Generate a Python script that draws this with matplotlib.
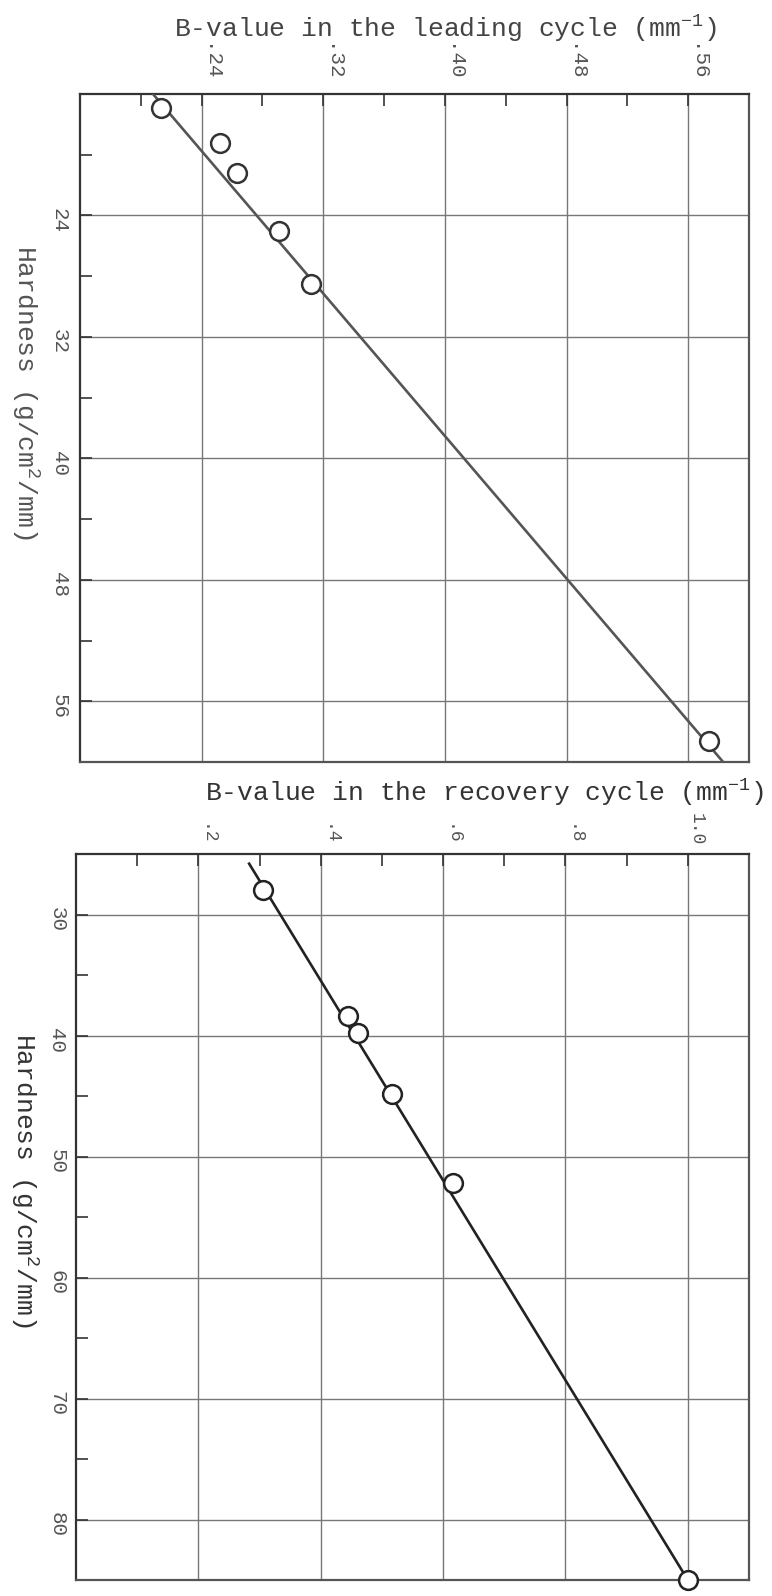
import matplotlib
matplotlib.use('Agg')
import matplotlib.pyplot as plt
import matplotlib.transforms as mtransforms
from matplotlib.ticker import MultipleLocator

# leading cycle (top panel)
lead_b = [0.213, 0.252, 0.263, 0.291, 0.312, 0.574]
lead_h = [16.9, 19.2, 21.2, 25.0, 28.5, 58.6]
lead_fit_b = [0.208, 0.583]
lead_fit_h = [16, 60]
lead_xticks = [0.24, 0.32, 0.40, 0.48, 0.56]
lead_xlabels = ['.24', '.32', '.40', '.48', '.56']
lead_yticks = [24, 32, 40, 48, 56]

# recovery cycle (bottom panel)
rec_b = [0.305, 0.444, 0.461, 0.516, 0.617, 1.0]
rec_h = [28.0, 38.4, 39.8, 44.8, 52.2, 85.0]
rec_fit_b = [0.283, 1.0]
rec_fit_h = [25.8, 85]
rec_xticks = [0.2, 0.4, 0.6, 0.8, 1.0]
rec_xlabels = ['.2', '.4', '.6', '.8', '1.0']
rec_yticks = [30, 40, 50, 60, 70, 80]

plt.rcParams['font.family'] = ['Liberation Mono', 'DejaVu Sans Mono']
plt.rcParams['mathtext.fontset'] = 'custom'
plt.rcParams['mathtext.rm'] = 'Liberation Mono'
plt.rcParams['mathtext.it'] = 'Liberation Mono'
plt.rcParams['mathtext.bf'] = 'Liberation Mono'

W, H = 772, 1596
fig = plt.figure(figsize=(W / 100, H / 100), dpi=100)

def px_axes(l, t, r, b):
    return fig.add_axes([l / W, 1 - b / H, (r - l) / W, (b - t) / H])

def style(ax, xt, xl, yt, xminor, yminor, xpad, ypad, xsize):
    ax.xaxis.tick_top()
    ax.set_xticks(xt)
    ax.set_xticklabels(xl)
    ax.set_yticks(yt)
    ax.xaxis.set_minor_locator(MultipleLocator(xminor))
    ax.yaxis.set_minor_locator(MultipleLocator(yminor))
    ax.tick_params(which='both', direction='in', length=8.5, width=1.2,
                   color='#333333', top=True, bottom=False, left=True, right=False)
    ax.tick_params(axis='x', which='major', pad=xpad, labelsize=xsize,
                   labelcolor='#555555', labelrotation=-90)
    ax.tick_params(axis='y', which='major', pad=ypad, labelsize=15,
                   labelcolor='#555555', labelrotation=-90)
    shift = mtransforms.ScaledTranslation(0.08, 0, fig.dpi_scale_trans)
    for lab in ax.get_xticklabels():
        lab.set_transform(lab.get_transform() + shift)
    ax.grid(True, which='major', color='#777777', lw=1.0)
    ax.set_axisbelow(True)
    for side, sp in ax.spines.items():
        sp.set_color('#333333' if side in ('left', 'top') else '#555555')
        sp.set_linewidth(1.6)

# top panel
ax1 = px_axes(80, 94, 749, 762)
ax1.set_xlim(0.16, 0.60)
ax1.set_ylim(60, 16)
ax1.plot(lead_fit_b, lead_fit_h, color='#555555', lw=1.9, zorder=3)
ax1.plot(lead_b, lead_h, 'o', ms=13.5, mfc='white', mec='#333333', mew=1.8,
         zorder=4, clip_on=False)
style(ax1, lead_xticks, lead_xlabels, lead_yticks, 0.04, 4, 9, 8, 15)

# bottom panel
ax2 = px_axes(76, 854, 749, 1580)
ax2.set_xlim(0.0, 1.1)
ax2.set_ylim(85, 25)
ax2.plot(rec_fit_b, rec_fit_h, color='#222222', lw=1.9, zorder=3)
ax2.plot(rec_b, rec_h, 'o', ms=13.5, mfc='white', mec='#222222', mew=1.8,
         zorder=4, clip_on=False)
style(ax2, rec_xticks, rec_xlabels, rec_yticks, 0.1, 5, 6, 7, 13)

fig.text(446 / W, 1 - 29 / H, 'B-value in the leading cycle (mm$^{-1}$)',
         ha='center', va='center', fontsize=19, color='#444444')
fig.text(484 / W, 1 - 793 / H, 'B-value in the recovery cycle (mm$^{-1}$)',
         ha='center', va='center', fontsize=19, color='#333333')
fig.text(25 / W, 1 - 392 / H, 'Hardness (g/cm$^2$/mm)', rotation=-90,
         ha='center', va='center', fontsize=19, color='#555555')
fig.text(24 / W, 1 - 1180 / H, 'Hardness (g/cm$^2$/mm)', rotation=-90,
         ha='center', va='center', fontsize=19, color='#333333')

fig.savefig('out.png', dpi=100, facecolor='white')
